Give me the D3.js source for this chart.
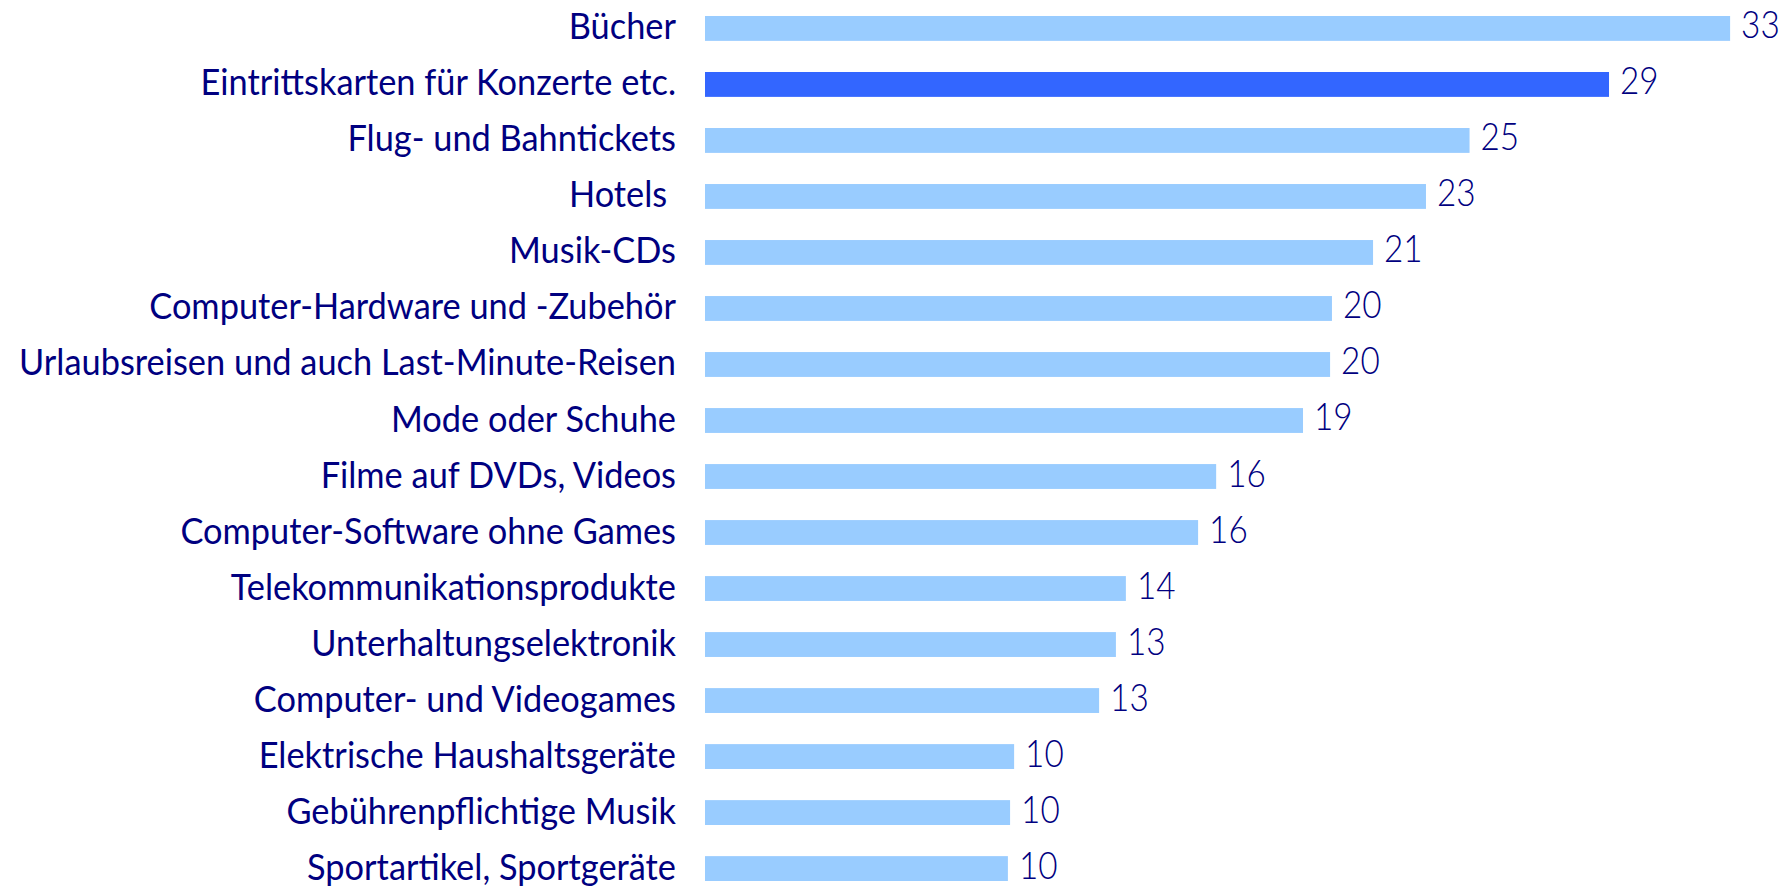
<!DOCTYPE html>
<html>
<head>
<meta charset="utf-8">
<script src="https://cdn.jsdelivr.net/npm/d3@7"></script>
<style>
  html, body { margin: 0; padding: 0; background: #ffffff; }
  svg { display: block; }
</style>
</head>
<body>
<svg id="chart" width="1791" height="887"></svg>
<script>
// ---- data ----
const categories = [
  "Bücher",
  "Eintrittskarten für Konzerte etc.",
  "Flug- und Bahntickets",
  "Hotels ",
  "Musik-CDs",
  "Computer-Hardware und -Zubehör",
  "Urlaubsreisen und auch Last-Minute-Reisen",
  "Mode oder Schuhe",
  "Filme auf DVDs, Videos",
  "Computer-Software ohne Games",
  "Telekommunikationsprodukte",
  "Unterhaltungselektronik",
  "Computer- und Videogames",
  "Elektrische Haushaltsgeräte",
  "Gebührenpflichtige Musik",
  "Sportartikel, Sportgeräte"
];
const values = [32.93, 29.04, 24.56, 23.16, 21.46, 20.14, 20.08, 19.21, 16.42, 15.84, 13.52, 13.20, 12.66, 9.93, 9.80, 9.73];
const highlighted = ["Eintrittskarten für Konzerte etc."];

const colorBar = "#99ccff";
const colorHighlight = "#3366ff";
const colorText = "#000080";

const data = categories.map((c, i) => ({ cat: c, val: values[i] }));

const svg = d3.select("#chart");

const x = d3.scaleLinear().domain([0, 33]).range([705, 705 + 33 * 31.13]);
const y = d3.scaleBand().domain(categories).range([16, 881]).paddingInner(0.556).paddingOuter(0);

// bars
svg.append("g").selectAll("rect")
  .data(data)
  .join("rect")
  .attr("x", x(0))
  .attr("y", d => y(d.cat))
  .attr("width", d => x(d.val) - x(0))
  .attr("height", y.bandwidth())
  .attr("fill", d => highlighted.includes(d.cat) ? colorHighlight : colorBar);

// category labels (axis)
const labelRight = 676;
const labelTargetWidth = 657; // width of the longest label
const yAxis = d3.axisLeft(y).tickSize(0).tickPadding(0);
const axisG = svg.append("g")
  .attr("transform", `translate(${labelRight},0)`)
  .call(yAxis);
axisG.select(".domain").remove();
axisG.selectAll("text")
  .attr("fill", colorText)
  .style("font-family", "Lato, 'Open Sans', 'DejaVu Sans', sans-serif")
  .style("font-size", "36px")
  .style("font-weight", "400")
  .style("white-space", "pre")
  .attr("x", 0)
  .attr("dy", null)
  .attr("y", 11)
  .attr("text-anchor", "end");

// compress horizontally to mimic the narrow geometric face
let maxW = 0;
axisG.selectAll("text").each(function () { maxW = Math.max(maxW, this.getComputedTextLength()); });
const fx = labelTargetWidth / maxW;
axisG.selectAll("text").attr("transform", `scale(${fx},1)`);

// value labels
const fmt = d3.format(".0f");
const vg = svg.append("g").selectAll("text")
  .data(data)
  .join("text")
  .attr("fill", colorText)
  .style("font-family", "Lato, 'Open Sans', 'DejaVu Sans', sans-serif")
  .style("font-size", "37px")
  .style("font-weight", "300")
  .attr("text-anchor", "start")
  .attr("transform", d => `translate(${x(d.val) + 11},${y(d.cat) + y.bandwidth() / 2 + 10}) scale(0.9,1)`)
  .text(d => fmt(d.val));
</script>
</body>
</html>
